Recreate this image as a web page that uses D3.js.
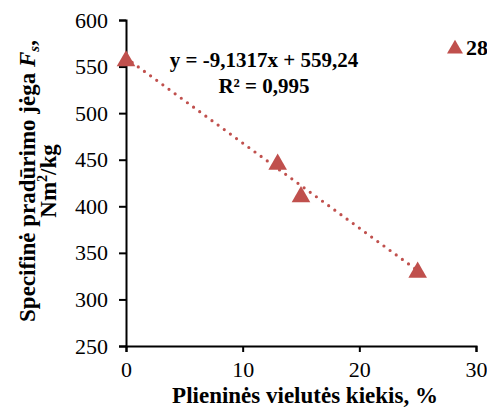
<!DOCTYPE html>
<html>
<head>
<meta charset="utf-8">
<script src="https://cdn.jsdelivr.net/npm/d3@7"></script>
<style>
  body { margin: 0; background: #fff; }
  svg text { font-family: "Liberation Serif", "Times New Roman", serif; }
</style>
</head>
<body>
<div id="chart"></div>
<script>
// data
var wireShare = [0, 13, 15, 25];
var punctureForce = [559, 448, 413, 332];
var xTicks = [0, 10, 20, 30];
var yTicks = [250, 300, 350, 400, 450, 500, 550, 600];
var trendSlope = -9.1317, trendIntercept = 559.24;
var seriesName = "28";

var w = 487, h = 412;
var red = "#C0504D";

var xScale = d3.scaleLinear().domain([0, 30]).range([126, 476]);
var yScale = d3.scaleLinear().domain([250, 600]).range([346, 20]);

var svg = d3.select("#chart").append("svg")
    .attr("width", w).attr("height", h);

//x axis
var xAxis = d3.axisBottom(xScale).tickValues(xTicks).tickSize(6).tickPadding(6).tickFormat(d3.format("d"));
var gx = svg.append("g")
    .attr("transform", "translate(0," + yScale(250) + ")")
    .call(xAxis);

//y axis
var yAxis = d3.axisLeft(yScale).tickValues(yTicks).tickSize(7).tickPadding(11).tickFormat(d3.format("d"));
var gy = svg.append("g")
    .attr("transform", "translate(" + xScale(0) + ",0)")
    .call(yAxis);

[gx, gy].forEach(function (g) {
    g.attr("font-family", "Liberation Serif, serif").attr("font-size", 22);
    g.select(".domain").attr("stroke", "#000").attr("stroke-width", 2);
    g.selectAll(".tick line").attr("stroke", "#000").attr("stroke-width", 2);
    g.selectAll(".tick text").attr("fill", "#000");
});
gx.selectAll(".tick text").attr("dy", "0.87em");

// trend line
var tl = [0, 25].map(function (x) { return [x, trendSlope * x + trendIntercept]; });
svg.append("line")
    .attr("x1", xScale(tl[0][0])).attr("y1", yScale(tl[0][1]))
    .attr("x2", xScale(tl[1][0])).attr("y2", yScale(tl[1][1]))
    .attr("stroke", red)
    .attr("stroke-width", 3.2)
    .attr("stroke-linecap", "round")
    .attr("stroke-dasharray", "0,7.6");

// markers (bbox centred on the value, like Excel)
var triSize = 150;
var triH = Math.sqrt(triSize / Math.sqrt(3) * 4) * Math.sqrt(3) / 2;
var tri = d3.symbol().type(d3.symbolTriangle).size(triSize);
svg.selectAll("path.pt")
    .data(wireShare)
    .enter()
    .append("path")
    .attr("class", "pt")
    .attr("d", tri)
    .attr("fill", red)
    .attr("transform", function (d, i) {
        return "translate(" + xScale(d) + "," + (yScale(punctureForce[i]) + triH / 6) + ")";
    });

// equation
svg.append("text")
    .attr("x", 264).attr("y", 67)
    .attr("text-anchor", "middle")
    .style("font-size", "21px").style("font-weight", "bold")
    .text("y = -9,1317x + 559,24");
svg.append("text")
    .attr("x", 264).attr("y", 93)
    .attr("text-anchor", "middle")
    .style("font-size", "21px").style("font-weight", "bold")
    .text("R² = 0,995");

// legend
svg.append("path")
    .attr("d", d3.symbol().type(d3.symbolTriangle).size(110))
    .attr("fill", red)
    .attr("transform", "translate(455,49)");
svg.append("text")
    .attr("x", 466).attr("y", 55)
    .style("font-size", "22px").style("font-weight", "bold")
    .text(seriesName);

// axis titles
svg.append("text")
    .attr("x", 305).attr("y", 403)
    .attr("text-anchor", "middle")
    .style("font-size", "23px").style("font-weight", "bold")
    .text("Plieninės vielutės kiekis, %");

var yt = svg.append("text")
    .attr("transform", "rotate(-90)")
    .attr("text-anchor", "middle")
    .style("font-size", "23px").style("font-weight", "bold");
var l1 = yt.append("tspan").attr("x", -181).attr("y", 35);
l1.append("tspan").text("Specifinė pradūrimo jėga ");
l1.append("tspan").style("font-style", "italic").text("F");
l1.append("tspan").style("font-style", "italic").style("font-size", "15px").attr("dy", 4).text("s");
l1.append("tspan").attr("dy", -4).text(",");
var l2 = yt.append("tspan").attr("x", -181).attr("y", 56);
l2.append("tspan").text("Nm");
l2.append("tspan").style("font-size", "14px").attr("dy", -9).text("2");
l2.append("tspan").attr("dy", 9).text("/kg");
</script>
</body>
</html>
